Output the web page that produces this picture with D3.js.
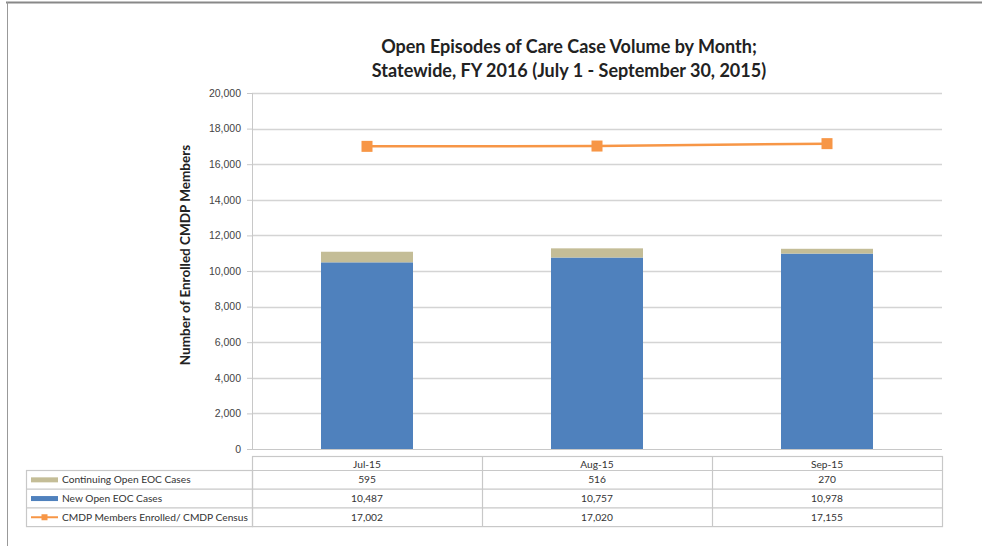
<!DOCTYPE html>
<html>
<head>
<meta charset="utf-8">
<script src="https://cdn.jsdelivr.net/npm/d3@7"></script>
<style>
  body { margin: 0; background: #fff; }
  svg { font-family: Lato, "Open Sans", sans-serif; }
</style>
</head>
<body>
<svg width="982" height="546"></svg>
<script>
var months = ["Jul-15", "Aug-15", "Sep-15"];
var continuing = [595, 516, 270];
var newCases = [10487, 10757, 10978];
var census = [17002, 17020, 17155];
var yTicks = [0, 2000, 4000, 6000, 8000, 10000, 12000, 14000, 16000, 18000, 20000];

var svg = d3.select("svg"),
    margin = {top: 93, right: 40, bottom: 97, left: 252},
    width = +svg.attr("width") - margin.left - margin.right,
    height = +svg.attr("height") - margin.top - margin.bottom;

// outer frame
svg.append("line").attr("x1", 6).attr("x2", 982).attr("y1", 2.5).attr("y2", 2.5)
    .attr("stroke", "#888").attr("stroke-width", 2);
svg.append("line").attr("x1", 7.5).attr("x2", 7.5).attr("y1", 2).attr("y2", 546)
    .attr("stroke", "#999").attr("stroke-width", 1);

var x = d3.scaleBand().domain(months).range([0, width]).paddingInner(0).paddingOuter(0),
    y = d3.scaleLinear().domain([0, 20000]).range([height, 0]);

var g = svg.append("g")
    .attr("transform", "translate(" + margin.left + "," + margin.top + ")");

// title
var title = svg.append("text").attr("text-anchor", "middle")
    .attr("font-size", 18).attr("font-weight", "bold").attr("fill", "#222");
title.append("tspan").attr("x", 569).attr("y", 53).text("Open Episodes of Care Case Volume by Month;");
title.append("tspan").attr("x", 569).attr("y", 77).text("Statewide, FY 2016 (July 1 - September 30, 2015)");

// gridlines
g.selectAll(".grid").data(yTicks.slice(1)).enter().append("line")
    .attr("x1", 0).attr("x2", width)
    .attr("y1", function(d) { return Math.round(y(d)) + 0.5; })
    .attr("y2", function(d) { return Math.round(y(d)) + 0.5; })
    .attr("stroke", "#d4d4d4").attr("stroke-width", 1.5);

// y axis
var yAxis = g.append("g")
    .call(d3.axisLeft(y).tickValues(yTicks).tickSize(5).tickPadding(6).tickFormat(d3.format(",")));
yAxis.select(".domain").attr("stroke", "#c8c8c8").attr("d", "M0.5,0V" + height);
yAxis.selectAll(".tick line").attr("stroke", "#c8c8c8");
yAxis.selectAll("text").attr("font-size", 10.5).attr("fill", "#444");

g.append("line").attr("x1", 0).attr("x2", width).attr("y1", height + 0.5).attr("y2", height + 0.5)
    .attr("stroke", "#c8c8c8");

svg.append("text")
    .attr("transform", "translate(190," + (margin.top + 162) + ") rotate(-90)")
    .attr("text-anchor", "middle").attr("font-size", 13.5).attr("font-weight", "bold").attr("fill", "#222")
    .text("Number of Enrolled CMDP Members");

// bars
var barW = x.bandwidth() * 0.4;
g.selectAll(".newbar").data(months).enter().append("rect")
    .attr("x", function(d) { return x(d) + (x.bandwidth() - barW) / 2; })
    .attr("y", function(d, i) { return y(newCases[i]); })
    .attr("width", barW)
    .attr("height", function(d, i) { return height - y(newCases[i]); })
    .attr("fill", "#4F81BD");
g.selectAll(".contbar").data(months).enter().append("rect")
    .attr("x", function(d) { return x(d) + (x.bandwidth() - barW) / 2; })
    .attr("y", function(d, i) { return y(newCases[i] + continuing[i]); })
    .attr("width", barW)
    .attr("height", function(d, i) { return y(newCases[i]) - y(newCases[i] + continuing[i]); })
    .attr("fill", "#C4BD97");

// line
var line = d3.line()
    .x(function(d, i) { return x(months[i]) + x.bandwidth() / 2; })
    .y(function(d) { return y(d); });
g.append("path").datum(census).attr("d", line)
    .attr("fill", "none").attr("stroke", "#F79646").attr("stroke-width", 2.5);
g.selectAll(".mk").data(census).enter().append("rect")
    .attr("x", function(d, i) { return x(months[i]) + x.bandwidth() / 2 - 5.5; })
    .attr("y", function(d) { return y(d) - 5.5; })
    .attr("width", 11).attr("height", 11).attr("fill", "#F79646");

// data table
var tTop = height + 7.5, headH = 14, rowH = 18.7, legLeft = 26 - margin.left;
var rows = [
  {name: "Continuing Open EOC Cases", vals: continuing, type: "bar", color: "#C4BD97"},
  {name: "New Open EOC Cases", vals: newCases, type: "bar", color: "#4F81BD"},
  {name: "CMDP Members Enrolled/ CMDP Census", vals: census, type: "line", color: "#F79646"}
];
var tbl = g.append("g").attr("font-size", 10.2).attr("fill", "#333");
var gridStroke = "#c8c8c8";
var tBottom = tTop + headH + rowH * 3;

tbl.append("rect").attr("x", 0.5).attr("y", tTop).attr("width", width).attr("height", tBottom - tTop)
    .attr("fill", "none").attr("stroke", gridStroke).attr("stroke-width", 1.2);
tbl.append("rect").attr("x", legLeft + 0.5).attr("y", tTop + headH).attr("width", -legLeft).attr("height", rowH * 3)
    .attr("fill", "none").attr("stroke", gridStroke).attr("stroke-width", 1.2);
for (var r = 0; r < 3; r++) {
  var ly = tTop + headH + rowH * r;
  tbl.append("line").attr("x1", legLeft).attr("x2", width)
      .attr("y1", ly).attr("y2", ly)
      .attr("stroke", gridStroke).attr("stroke-width", 1.2);
}
months.forEach(function(m, i) {
  if (i > 0) {
    tbl.append("line").attr("x1", x(m) + 0.5).attr("x2", x(m) + 0.5)
        .attr("y1", tTop).attr("y2", tBottom)
        .attr("stroke", gridStroke).attr("stroke-width", 1.2);
  }
  tbl.append("text").attr("x", x(m) + x.bandwidth() / 2).attr("y", tTop + headH / 2 + 4)
      .attr("text-anchor", "middle").text(m);
});
var fmt = d3.format(",");
rows.forEach(function(row, r) {
  var cy = tTop + headH + rowH * r + rowH / 2;
  if (row.type === "bar") {
    tbl.append("rect").attr("x", legLeft + 5).attr("y", cy - 2.5).attr("width", 27).attr("height", 5)
        .attr("fill", row.color);
  } else {
    tbl.append("line").attr("x1", legLeft + 5).attr("x2", legLeft + 32).attr("y1", cy).attr("y2", cy)
        .attr("stroke", row.color).attr("stroke-width", 2);
    tbl.append("rect").attr("x", legLeft + 15.5).attr("y", cy - 3).attr("width", 6).attr("height", 6)
        .attr("fill", row.color);
  }
  tbl.append("text").attr("x", legLeft + 36).attr("y", cy + 3.5).text(row.name);
  row.vals.forEach(function(v, i) {
    tbl.append("text").attr("x", x(months[i]) + x.bandwidth() / 2).attr("y", cy + 3.5)
        .attr("text-anchor", "middle").text(fmt(v));
  });
});
</script>
</body>
</html>
